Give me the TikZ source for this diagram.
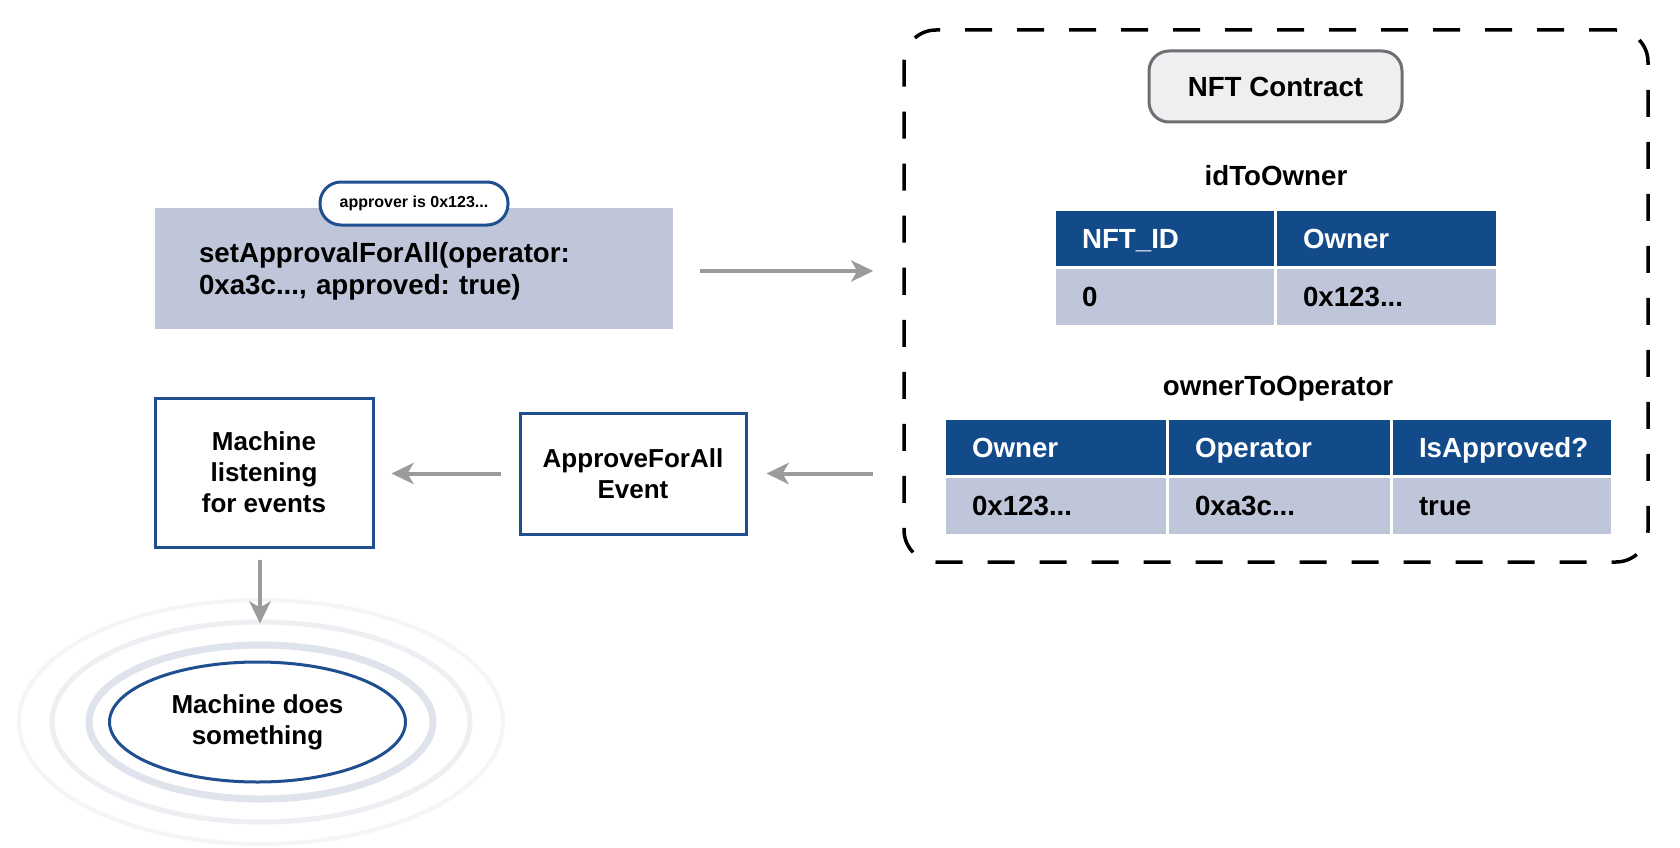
\documentclass[tikz,border=0pt]{standalone}
\usepackage{fontspec}
\setmainfont{Liberation Sans}
\usetikzlibrary{arrows.meta,shapes.geometric}
\definecolor{hdrblue}{HTML}{134A8A}
\definecolor{rowgray}{HTML}{C0C6DA}
\definecolor{boxblue}{HTML}{1F4F8E}
\definecolor{arrgray}{HTML}{9B9B9B}
\definecolor{pillfill}{HTML}{EEEFF1}
\definecolor{pillline}{HTML}{6E6F72}
\definecolor{ringa}{HTML}{DFE3EB}
\definecolor{ringb}{HTML}{EDEFF2}
\definecolor{ringc}{HTML}{F4F5F7}
\frenchspacing
\begin{document}
\begin{tikzpicture}[x=1pt,y=-1pt,
  txt/.style={font=\fontsize{26}{31}\selectfont\bfseries},
  bigtxt/.style={font=\fontsize{27.7}{32}\selectfont\bfseries},
  oneline/.style={bigtxt, inner sep=0pt, text height=20pt, text depth=0pt},
  cellbase/.style={bigtxt, rectangle, draw=white, line width=3pt, inner xsep=28pt, inner ysep=0pt,
    text height=20pt, text depth=0pt, align=left},
  hcell/.style={cellbase, fill=hdrblue, text=white},
  rcell/.style={cellbase, fill=rowgray, text=black},
  bluebox/.style={txt, rectangle, draw=boxblue, line width=3pt, fill=white, align=center},
  arr/.style={draw=arrgray, line width=4pt, -{Stealth[length=22pt,width=21pt,inset=6pt]}},
]
\fill[white] (0,0) rectangle (1680,848);
\useasboundingbox (0,0) rectangle (1680,848);

% dashed contract frame
\node[draw=black, line width=3.5pt, dash pattern=on 27pt off 25pt, rounded corners=32pt,
      minimum width=744pt, minimum height=532pt, inner sep=0pt] (contract) at (1276,296) {};

% NFT contract pill
\node[oneline, draw=pillline, fill=pillfill, line width=3pt, rounded corners=20pt,
      minimum width=253pt, minimum height=71pt] (nft) at (1275.5,86.5) {NFT Contract};

% idToOwner table
\node[oneline] (t1title) at (1276,175) {idToOwner};
\node[hcell, text width=165pt, minimum height=58pt] (t1h1) at (1164.5,238) {NFT\_ID};
\node[hcell, text width=166pt, minimum height=58pt] (t1h2) at (1386,238) {Owner};
\node[rcell, text width=165pt, minimum height=59pt] (t1r1) at (1164.5,296.5) {0};
\node[rcell, text width=166pt, minimum height=59pt] (t1r2) at (1386,296.5) {0x123...};

% ownerToOperator table
\node[oneline] (t2title) at (1278,385) {ownerToOperator};
\node[hcell, text width=167pt, minimum height=58pt] (t2h1) at (1055.5,447) {Owner};
\node[hcell, text width=168pt, minimum height=58pt] (t2h2) at (1279,447) {Operator};
\node[hcell, text width=165pt, minimum height=58pt] (t2h3) at (1501.5,447) {IsApproved?};
\node[rcell, text width=167pt, minimum height=59pt] (t2r1) at (1055.5,505.5) {0x123...};
\node[rcell, text width=168pt, minimum height=59pt] (t2r2) at (1279,505.5) {0xa3c...};
\node[rcell, text width=165pt, minimum height=59pt] (t2r3) at (1501.5,505.5) {true};

% call box
\node[bigtxt, rectangle, fill=rowgray, minimum width=518pt, minimum height=121pt,
      inner xsep=44pt, inner ysep=0pt, text width=430pt, text height=20pt, text depth=32pt,
      align=left] (call) at (414,268.5)
      {setApprovalForAll(operator:\\0xa3c..., approved: true)};
\node[font=\fontsize{16}{19}\selectfont\bfseries, draw=boxblue, line width=3pt, fill=white,
      rounded corners=21pt, minimum width=188pt, minimum height=43pt, inner sep=0pt] (approver)
      at (414,203.5) {approver is 0x123...};

% event and listener boxes
\node[bluebox, minimum width=226pt, minimum height=121pt] (event) at (633,473.5) {ApproveForAll\\Event};
\node[bluebox, minimum width=218pt, minimum height=149pt] (listen) at (264,472.5) {Machine\\listening\\for events};

% machine does something
\node[txt, ellipse, draw=boxblue, line width=3pt, fill=white, align=center,
      minimum width=296pt, minimum height=120pt, inner sep=0pt] (doit) at (257.5,722) {Machine does\\something};
\draw[ringa, line width=7pt] ([xshift=3.5pt]doit.center) ellipse [x radius=172pt, y radius=77pt];
\draw[ringb, line width=5pt] ([xshift=3.5pt]doit.center) ellipse [x radius=209pt, y radius=100pt];
\draw[ringc, line width=4pt] ([xshift=3.5pt]doit.center) ellipse [x radius=242pt, y radius=122pt];

% connectors
\draw[arr, shorten <=27pt, shorten >=29pt] ([yshift=-2.5pt]call.east) -- ([yshift=-2.5pt]call.east -| contract.west);
\draw[arr, shorten <=29pt, shorten >=19pt] (event.east -| contract.west) -- (event.east);
\draw[arr, shorten <=18pt, shorten >=17pt] (event.west) -- (event.west -| listen.east);
\draw[arr, shorten <=11pt, shorten >=37pt] ([xshift=-4pt]listen.south) -- ([xshift=-4pt]listen.south |- doit.north);
\end{tikzpicture}
\end{document}
